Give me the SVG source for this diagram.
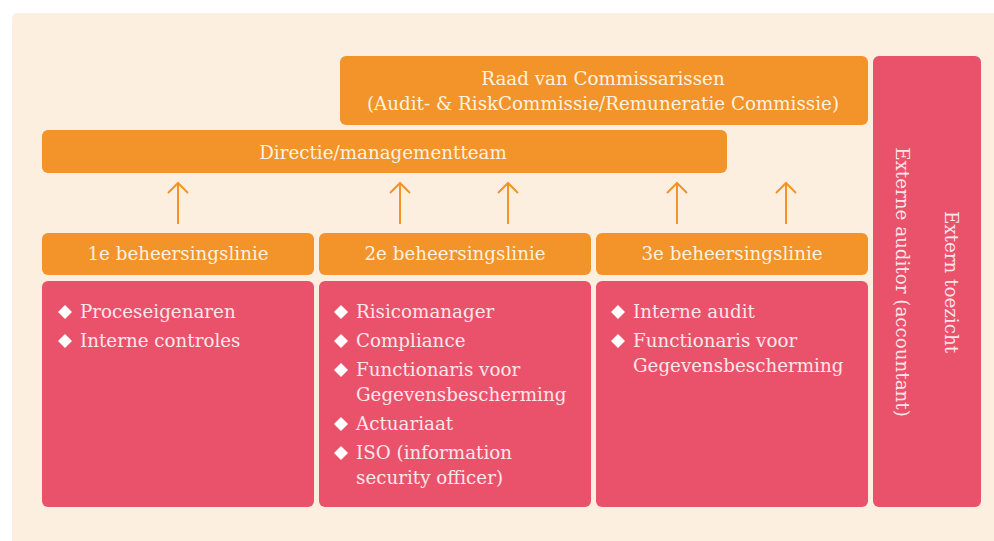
<svg xmlns="http://www.w3.org/2000/svg" width="994" height="541" viewBox="0 0 994 541">
<defs>
<style>
.bg{fill:#FDEFE0}
.or{fill:#F29429}
.rd{fill:#E9526A}
.t{font-family:"DejaVu Serif","Liberation Serif",serif;font-size:18.3px;}
.to{fill:#FEF1E2}
.tr{fill:#FDE6EA}
.c{text-anchor:middle}
.dm{fill:#FFFFFF}
.arrow{fill:none;stroke:#F29429;stroke-width:2;stroke-linecap:butt}
</style>
<path id="dia" d="M0,-7 L7,0 L0,7 L-7,0 Z"/>
</defs>
<rect class="bg" x="12" y="13" width="995" height="540" rx="5"/>

<g id="raad">
<rect class="or" x="340" y="56" width="528" height="69" rx="6"/>
<text class="t to c" x="603" y="85">Raad van Commissarissen</text>
<text class="t to c" x="603" y="110">(Audit- &amp; RiskCommissie/Remuneratie Commissie)</text>
</g>

<g id="directie">
<rect class="or" x="42" y="130" width="685" height="43" rx="6"/>
<text class="t to c" x="383" y="159">Directie/managementteam</text>
</g>

<g id="extern">
<rect class="rd" x="873" y="56" width="108" height="451" rx="6"/>
<text class="t tr c" transform="translate(902,282) rotate(90)" dy="0.35em">Externe auditor (accountant)</text>
<text class="t tr c" transform="translate(951,282) rotate(90)" dy="0.35em">Extern toezicht</text>
</g>

<g id="connectors">
<path class="arrow" d="M178,224 V183 M168,193 L178,183 L188,193"/>
<path class="arrow" d="M400,224 V183 M390,193 L400,183 L410,193"/>
<path class="arrow" d="M508,224 V183 M498,193 L508,183 L518,193"/>
<path class="arrow" d="M677,224 V183 M667,193 L677,183 L687,193"/>
<path class="arrow" d="M786,224 V183 M776,193 L786,183 L796,193"/>
</g>

<g id="linie1">
<rect class="or" x="42" y="233" width="272" height="42" rx="6"/>
<text class="t to c" x="178" y="260">1e beheersingslinie</text>
<rect class="rd" x="42" y="281" width="272" height="226" rx="6"/>
<use href="#dia" class="dm" x="65" y="312"/>
<text class="t tr" x="80" y="318">Proceseigenaren</text>
<use href="#dia" class="dm" x="65" y="341"/>
<text class="t tr" x="80" y="347">Interne controles</text>
</g>

<g id="linie2">
<rect class="or" x="319" y="233" width="272" height="42" rx="6"/>
<text class="t to c" x="455" y="260">2e beheersingslinie</text>
<rect class="rd" x="319" y="281" width="272" height="226" rx="6"/>
<use href="#dia" class="dm" x="341" y="312"/>
<text class="t tr" x="356" y="318">Risicomanager</text>
<use href="#dia" class="dm" x="341" y="341"/>
<text class="t tr" x="356" y="347">Compliance</text>
<use href="#dia" class="dm" x="341" y="370"/>
<text class="t tr" x="356" y="376">Functionaris voor</text>
<text class="t tr" x="356" y="401">Gegevensbescherming</text>
<use href="#dia" class="dm" x="341" y="424"/>
<text class="t tr" x="356" y="430">Actuariaat</text>
<use href="#dia" class="dm" x="341" y="453"/>
<text class="t tr" x="356" y="459">ISO (information</text>
<text class="t tr" x="356" y="484">security officer)</text>
</g>

<g id="linie3">
<rect class="or" x="596" y="233" width="272" height="42" rx="6"/>
<text class="t to c" x="732" y="260">3e beheersingslinie</text>
<rect class="rd" x="596" y="281" width="272" height="226" rx="6"/>
<use href="#dia" class="dm" x="618" y="312"/>
<text class="t tr" x="633" y="318">Interne audit</text>
<use href="#dia" class="dm" x="618" y="341"/>
<text class="t tr" x="633" y="347">Functionaris voor</text>
<text class="t tr" x="633" y="372">Gegevensbescherming</text>
</g>
</svg>
